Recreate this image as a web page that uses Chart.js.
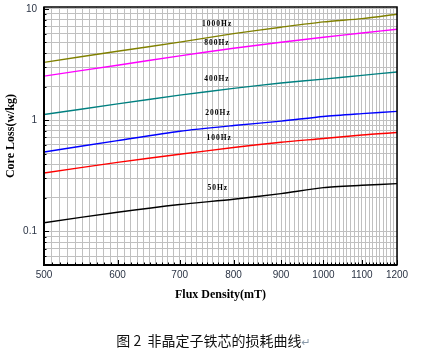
<!DOCTYPE html>
<html>
<head>
<meta charset="utf-8">
<script src="https://cdn.jsdelivr.net/npm/chart.js@4"></script>
<style>
  html, body { margin: 0; padding: 0; background: #fff; }
  #wrap { position: relative; width: 427px; height: 356px; overflow: hidden; }
  #c { position: absolute; left: 0; top: 0; }
  #cap { position: absolute; left: 0; top: 330px; width: 427px; text-align: center;
         font: 14px "Noto Sans CJK SC", sans-serif; line-height: 20px; color: #111; }
  #cap span { color: #8a9aaa; font: 11px "DejaVu Sans", sans-serif; }
</style>
</head>
<body>
<div id="wrap">
  <canvas id="c" width="427" height="356"></canvas>
  <div id="cap">图 2&nbsp;&nbsp;非晶定子铁芯的损耗曲线<span>↵</span></div>
</div>
<script>
// ---- data ----
const fluxDensity = [500, 600, 700, 800, 900, 1000, 1100, 1200];   // mT
const seriesNames = ['1000Hz', '800Hz', '400Hz', '200Hz', '100Hz', '50Hz'];
const loss1000 = [3.31, 4.16, 5.03, 5.99, 6.84, 7.64, 8.18, 8.96];
const loss800  = [2.49, 3.12, 3.78, 4.43, 5.01, 5.56, 6.08, 6.56];
const loss400  = [1.125, 1.40, 1.68, 1.93, 2.16, 2.34, 2.53, 2.71];
const loss200  = [0.518, 0.655, 0.796, 0.896, 0.98, 1.08, 1.145, 1.20];
const loss100  = [0.335, 0.418, 0.494, 0.568, 0.634, 0.684, 0.737, 0.775];
const loss50   = [0.120, 0.149, 0.175, 0.195, 0.219, 0.248, 0.260, 0.269];
const xTickLabels = [500, 600, 700, 800, 900, 1000, 1100, 1200];
const yTickLabels = [0.1, 1, 10];

// ---- styling / layout ----
const colors = ['#808000', '#ff00ff', '#008080', '#0000ff', '#ff0000', '#000000'];
const seriesValues = [loss1000, loss800, loss400, loss200, loss100, loss50];
// label anchors (data coords of the left/middle point of each text)
const labelAnchors = [[740, 7.28], [744, 4.91], [744, 2.33], [746, 1.149], [748, 0.684], [750, 0.248]];

const xGrid = [];
for (let v = 500; v <= 1200; v += 10) xGrid.push(v);
const yGrid = [];
[0.01, 0.1, 1].forEach(d => { for (let k = 1; k <= 9; k++) { const v = +(k * d).toPrecision(3); if (v >= 0.06) yGrid.push(v); } });
yGrid.push(10);

const isMajorX = v => xTickLabels.includes(v);
const isMajorY = v => yTickLabels.some(t => Math.abs(t - v) < 1e-9);

const framePlugin = {
  id: 'frame',
  afterDatasetsDraw(chart) {
    const {ctx, chartArea: a, scales} = chart;
    ctx.save();
    // inward tick marks
    ctx.strokeStyle = '#000';
    ctx.lineWidth = 1;
    ctx.beginPath();
    xGrid.forEach(v => {
      const x = Math.round(scales.x.getPixelForValue(v)) + 0.5;
      const len = isMajorX(v) ? 5 : 2.5;
      ctx.moveTo(x, a.bottom); ctx.lineTo(x, a.bottom - len);
    });
    yGrid.forEach(v => {
      const y = Math.round(scales.y.getPixelForValue(v)) + 0.5;
      const len = isMajorY(v) ? 5 : 2.5;
      ctx.moveTo(a.left, y); ctx.lineTo(a.left + len, y);
    });
    ctx.stroke();
    // frame
    ctx.lineWidth = 1.5;
    ctx.strokeRect(a.left, a.top, a.right - a.left, a.bottom - a.top);
    ctx.lineWidth = 2;
    ctx.beginPath();
    ctx.moveTo(a.left, a.top); ctx.lineTo(a.left, a.bottom); ctx.lineTo(a.right, a.bottom);
    ctx.stroke();
    // series labels
    ctx.fillStyle = '#000';
    ctx.font = 'bold 7.5px "Liberation Serif", serif';
    if ('letterSpacing' in ctx) ctx.letterSpacing = '1px';
    ctx.textAlign = 'left';
    ctx.textBaseline = 'middle';
    seriesNames.forEach((name, i) => {
      const [bx, by] = labelAnchors[i];
      ctx.fillText(name, scales.x.getPixelForValue(bx), scales.y.getPixelForValue(by));
    });
    ctx.restore();
  }
};

new Chart(document.getElementById('c'), {
  type: 'line',
  data: {
    labels: fluxDensity,
    datasets: seriesNames.map((n, i) => ({
      label: n,
      data: fluxDensity.map((x, j) => ({x, y: seriesValues[i][j]})),
      borderColor: colors[i],
      backgroundColor: colors[i],
      borderWidth: 1.4,
      pointRadius: 0,
      tension: 0.25,
      fill: false
    }))
  },
  options: {
    responsive: false,
    animation: false,
    devicePixelRatio: 1,
    layout: { padding: { left: 0, right: 30, top: 7, bottom: 0 } },
    plugins: { legend: { display: false }, tooltip: { enabled: false } },
    scales: {
      x: {
        type: 'logarithmic',
        min: 500, max: 1200,
        afterBuildTicks: s => { s.ticks = xGrid.map(v => ({value: v})); },
        afterFit: s => { s.height = 91; s.paddingLeft = 0; s.paddingRight = 0; },
        grid: { color: '#c0c0c0', lineWidth: 1, drawTicks: false },
        border: { display: false },
        ticks: {
          autoSkip: false, maxRotation: 0, padding: 4,
          color: '#2b3445',
          font: { family: '"Liberation Sans", Arial, sans-serif', size: 10 },
          callback: v => isMajorX(v) ? String(v) : ''
        },
        title: {
          display: true, text: 'Flux Density(mT)', color: '#000',
          font: { family: '"Liberation Serif", "Times New Roman", serif', size: 12, weight: 'bold' },
          padding: { top: 0, bottom: 54 }
        }
      },
      y: {
        type: 'logarithmic',
        min: 0.05, max: 10.4,
        afterBuildTicks: s => { s.ticks = yGrid.map(v => ({value: v})); },
        afterFit: s => { s.width = 44; s.paddingTop = 0; s.paddingBottom = 0; },
        grid: { color: '#c0c0c0', lineWidth: 1, drawTicks: false },
        border: { display: false },
        ticks: {
          autoSkip: false, padding: 7,
          color: '#2b3445',
          font: { family: '"Liberation Sans", Arial, sans-serif', size: 10 },
          callback: v => isMajorY(v) ? String(v) : ''
        },
        title: {
          display: true, text: 'Core Loss(w/kg)', color: '#000',
          font: { family: '"Liberation Serif", "Times New Roman", serif', size: 12, weight: 'bold' },
          padding: { top: 4, bottom: 0 }
        }
      }
    }
  },
  plugins: [framePlugin]
});
</script>
</body>
</html>
